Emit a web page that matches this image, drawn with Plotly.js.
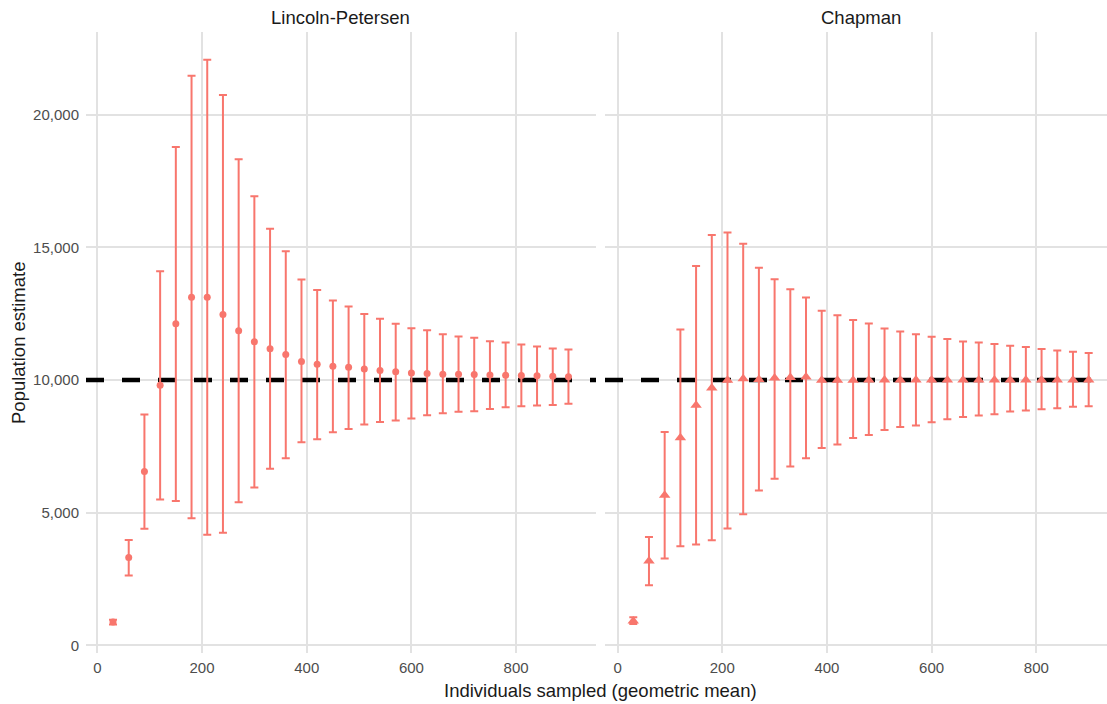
<!DOCTYPE html>
<html>
<head>
<meta charset="utf-8">
<script src="https://cdn.plot.ly/plotly-3.0.1.min.js"></script>
<style>html,body{margin:0;padding:0;background:#fff;}#chart{width:1107px;height:704px;}</style>
</head>
<body>
<div id="chart"></div>
<script>
// ---- data ----
const panelTitles = ["Lincoln-Petersen", "Chapman"];
const sampled = [30,60,90,120,150,180,210,240,270,300,330,360,390,420,450,480,510,540,570,600,630,660,690,720,750,780,810,840,870,900];

const lpEst = [880,3310,6550,9800,12120,13120,13120,12470,11860,11440,11180,10960,10700,10590,10520,10480,10410,10360,10310,10260,10240,10220,10220,10210,10190,10180,10170,10160,10140,10120];
const lpLo  = [780,2630,4390,5500,5440,4790,4170,4240,5390,5950,6650,7050,7650,7770,8030,8150,8320,8420,8470,8550,8670,8750,8800,8820,8910,8970,9010,9040,9060,9100];
const lpHi  = [960,3970,8700,14100,18780,21470,22070,20740,18320,16920,15700,14850,13790,13390,13000,12770,12490,12310,12120,11950,11870,11720,11640,11590,11460,11410,11340,11260,11190,11150];

const chEst = [920,3180,5660,7820,9050,9700,9990,10050,10020,10070,10090,10110,9990,9990,9990,10000,10000,10000,10000,10000,10000,10000,10000,10000,10000,10000,10000,10000,10000,10000];
const chLo  = [800,2260,3270,3730,3800,3960,4400,4940,5830,6280,6740,7050,7440,7570,7810,7930,8110,8230,8280,8410,8520,8600,8660,8710,8810,8850,8900,8930,8990,9010];
const chHi  = [1060,4080,8040,11900,14300,15460,15560,15130,14230,13800,13420,13110,12610,12440,12260,12130,11940,11830,11720,11630,11540,11450,11410,11360,11290,11240,11170,11110,11060,11020];

const trueN = 10000;
const yTicks = [0,5000,10000,15000,20000];
const xTicks = [0,200,400,600,800];
const xTitle = "Individuals sampled (geometric mean)";
const yTitle = "Population estimate";

// ---- styling / scales ----
const W = 1107, H = 704;
const salmon = "#F8766D";
const gridC = "#e2e2e2";
const font = "Liberation Sans, Arial, sans-serif";
const xRange1 = [-21.6, 952.6];
const xRange2 = [-24, 935];
const yRange = [-290, 23115];

function errTrace(est, lo, hi, xa, ya, symbol, size) {
  return {
    type: "scatter", mode: "markers",
    x: sampled, y: est, xaxis: xa, yaxis: ya,
    marker: {color: salmon, size: size, symbol: symbol, line: {width: 0}},
    error_y: {
      type: "data", symmetric: false,
      array: hi.map((h, i) => h - est[i]),
      arrayminus: lo.map((l, i) => est[i] - l),
      color: salmon, thickness: 2, width: 4
    },
    hoverinfo: "x+y", showlegend: false, cliponaxis: false
  };
}

function refLine(range, xa, ya) {
  return {
    type: "scatter", mode: "lines", x: range, y: [trueN, trueN],
    xaxis: xa, yaxis: ya, hoverinfo: "skip", showlegend: false,
    line: {color: "#000000", width: 4.5, dash: "18px,18px"}
  };
}

const traces = [
  refLine(xRange1, "x", "y"),
  refLine(xRange2, "x2", "y2"),
  errTrace(lpEst, lpLo, lpHi, "x", "y", "circle", 7),
  errTrace(chEst, chLo, chHi, "x2", "y2", "triangle-up", 10)
];

const axBase = {
  showgrid: true, gridcolor: gridC, gridwidth: 2,
  zeroline: false, showline: false, ticks: "",
  tickfont: {family: font, size: 15, color: "#4d4d4d"},
  fixedrange: true
};

const plotTop = 32, plotBottom = 653;
const plotH = plotBottom - plotTop;

const layout = {
  width: W, height: H,
  paper_bgcolor: "#fff", plot_bgcolor: "#fff",
  margin: {l: 0, r: 0, t: plotTop, b: H - plotBottom},
  showlegend: false,
  font: {family: font},
  xaxis: Object.assign({}, axBase, {
    domain: [86/W, 596/W], range: xRange1, tickvals: xTicks, anchor: "y",
    ticklabelstandoff: 4
  }),
  xaxis2: Object.assign({}, axBase, {
    domain: [605/W, 1], range: xRange2, tickvals: xTicks, anchor: "y2",
    ticklabelstandoff: 4
  }),
  yaxis: Object.assign({}, axBase, {
    domain: [0, 1], range: yRange, tickvals: yTicks, tickformat: ",d", anchor: "x",
    ticklabelstandoff: 6
  }),
  yaxis2: Object.assign({}, axBase, {
    domain: [0, 1], range: yRange, tickvals: yTicks, showticklabels: false, anchor: "x2"
  }),
  annotations: [
    {text: panelTitles[0], xref: "paper", yref: "paper", x: 341/W, y: (plotBottom - 18)/plotH,
     xanchor: "center", yanchor: "middle", showarrow: false,
     font: {family: font, size: 18.5, color: "#1a1a1a"}},
    {text: panelTitles[1], xref: "paper", yref: "paper", x: 861/W, y: (plotBottom - 18)/plotH,
     xanchor: "center", yanchor: "middle", showarrow: false,
     font: {family: font, size: 18.5, color: "#1a1a1a"}},
    {text: xTitle, xref: "paper", yref: "paper", x: 600/W, y: 0, yshift: -(690 - plotBottom),
     xanchor: "center", yanchor: "middle", showarrow: false,
     font: {family: font, size: 18.5, color: "#1a1a1a"}},
    {text: yTitle, xref: "paper", yref: "paper", x: 18/W, y: (plotBottom - 343)/plotH, textangle: -90,
     xanchor: "center", yanchor: "middle", showarrow: false,
     font: {family: font, size: 18.5, color: "#1a1a1a"}}
  ]
};

Plotly.newPlot("chart", traces, layout, {displayModeBar: false, staticPlot: true});
</script>
</body>
</html>
